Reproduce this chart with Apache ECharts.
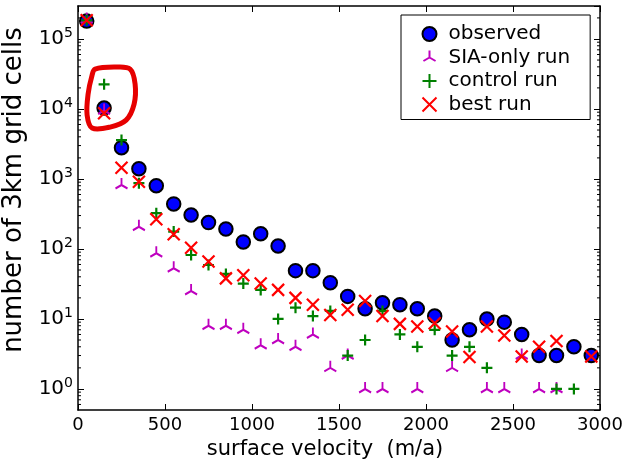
<!DOCTYPE html>
<html>
<head>
<meta charset="utf-8">
<script src="https://cdn.jsdelivr.net/npm/echarts@6/dist/echarts.min.js"></script>
<style>
html,body{margin:0;padding:0;background:#fff;}
#chart{width:625px;height:459px;}
</style>
</head>
<body>
<div id="chart"></div>
<script>
// bin centres of surface velocity (m/a)
const velocity = [50,150,250,350,450,550,650,750,850,950,1050,1150,1250,1350,1450,1550,1650,1750,1850,1950,2050,2150,2250,2350,2450,2550,2650,2750,2850,2950];
const observed = [180000,10300,2800,1400,800,440,305,238,193,126,165,110,49,49,33,21,14,17,16,14,11,5,7,10,9,6,3,3,4,3];
const siaOnly  = [190000,9500,820,208,87,53,25,8,8,7,4.2,5,4,6,2,3,1,1,null,1,null,2,null,1,1,3,1,1,null,null];
const control  = [185000,22500,3600,870,324,177,82,59,44,32,26,10,14.5,11,13,3,5,13,6,4,7,3,4,2,null,null,null,1,1,null];
const best     = [185000,8700,1450,915,266,162,104,66,38,42,32,26,20,16,11.4,13.5,18,11,8.5,7.8,8.7,6.6,2.85,7.8,5.8,2.9,4,4.85,null,2.9];
const seriesNames = ['observed','SIA-only run','control run','best run'];
const xTicks = [0,500,1000,1500,2000,2500,3000];
const yMin = 0.5, yMax = 296000;
// index of the bin that is circled by hand in red
const circledBin = 1;

function pairs(vals){
  const out = [];
  vals.forEach((v,i)=>{ if (v !== null) out.push([velocity[i], v]); });
  return out;
}
// log minor tick positions (2..9 x 10^n)
const minorVals = [];
for (let e=-1;e<=5;e++){ for (let m=2;m<=9;m++){ const v=m*Math.pow(10,e); if (v>yMin && v<yMax) minorVals.push([0,v]); } }

const FONT = 'DejaVu Sans';
function yFmt(v){
  const l = Math.log10(v), e = Math.round(l);
  if (Math.abs(l-e) > 1e-6) return '';
  return '{b|10}{s|' + e + '}';
}
const commonY = {
  type:'log', min:yMin, max:yMax, splitNumber:5,
  axisLine:{show:true, onZero:false, lineStyle:{color:'#000', width:1.5}},
  axisTick:{show:true, inside:true, length:6, lineStyle:{color:'#000', width:1}},
  splitLine:{show:false}
};
const commonX = {
  type:'value', min:xTicks[0], max:xTicks[xTicks.length-1], interval:xTicks[1]-xTicks[0],
  axisLine:{show:true, onZero:false, lineStyle:{color:'#000', width:1.5}},
  axisTick:{show:true, inside:true, length:6, lineStyle:{color:'#000', width:1}},
  splitLine:{show:false}
};

const triPath = 'path://M0,7M0,0L0,-7M0,0L-6.06,3.5M0,0L6.06,3.5';
const plusPath = 'path://M-5,0L5,0M0,-5L0,5';
const xPath = 'path://M-5,-5L5,5M-5,5L5,-5';

const chart = echarts.init(document.getElementById('chart'), null, {renderer:'canvas'});
chart.setOption({
  animation:false,
  backgroundColor:'#fff',
  textStyle:{fontFamily:FONT},
  grid:{left:78, right:25, top:6, bottom:49, containLabel:false, outerBoundsMode:'none'},
  xAxis:[
    Object.assign({}, commonX, {
      position:'bottom',
      name:'surface velocity  (m/a)', nameLocation:'middle', nameGap:27,
      nameTextStyle:{fontFamily:FONT, fontSize:21, color:'#000', padding:[0,28,0,0]},
      axisLabel:{fontFamily:FONT, fontSize:18, color:'#000', margin:6, formatter:function(v){return String(v);}}
    }),
    Object.assign({}, commonX, {position:'top', axisLabel:{show:false}})
  ],
  yAxis:[
    Object.assign({}, commonY, {
      position:'left',
      name:'number of 3km grid cells', nameLocation:'middle', nameGap:42,
      nameTextStyle:{fontFamily:FONT, fontSize:26, color:'#000', padding:[0,0,0,36]},
      axisLabel:{formatter:yFmt, margin:5, showMinLabel:false, showMaxLabel:false,
        rich:{ b:{fontFamily:FONT, fontSize:20, color:'#000'},
               s:{fontFamily:FONT, fontSize:14, color:'#000', padding:[0,0,12,0]} } }
    }),
    Object.assign({}, commonY, {position:'right', axisLabel:{show:false}})
  ],
  legend:{
    data:seriesNames, orient:'vertical', left:401, top:15,
    itemWidth:14, itemHeight:14, itemGap:3.5,
    padding:[9,20,5,19],
    borderColor:'#000', borderWidth:1, borderRadius:0,
    textStyle:{fontFamily:FONT, fontSize:20, color:'#000', padding:[0,0,0,7]},
    selectedMode:false
  },
  series:[
    {type:'custom', name:'minor', silent:true, xAxisIndex:0, yAxisIndex:0, data:minorVals, z:1,
      renderItem:function(params, api){
        const cs = params.coordSys;
        const y = api.coord([0, api.value(1)])[1];
        const st = {stroke:'#000', lineWidth:1};
        return {type:'group', children:[
          {type:'line', shape:{x1:cs.x, y1:y, x2:cs.x+3, y2:y}, style:st},
          {type:'line', shape:{x1:cs.x+cs.width-3, y1:y, x2:cs.x+cs.width, y2:y}, style:st}
        ]};
      }},
    {type:'scatter', name:seriesNames[0], data:pairs(observed), symbol:'circle', symbolSize:13.5,
      itemStyle:{color:'#0000ff', borderColor:'#000', borderWidth:2, opacity:1}, z:2, emphasis:{disabled:true}},
    {type:'scatter', name:seriesNames[1], data:pairs(siaOnly), symbol:triPath, symbolSize:[12,14],
      itemStyle:{color:'none', borderColor:'#bf00bf', borderWidth:2, opacity:1}, z:3, emphasis:{disabled:true}},
    {type:'scatter', name:seriesNames[2], data:pairs(control), symbol:plusPath, symbolSize:11,
      itemStyle:{color:'none', borderColor:'#008000', borderWidth:2.2, opacity:1}, z:4, emphasis:{disabled:true}},
    {type:'scatter', name:seriesNames[3], data:pairs(best), symbol:xPath, symbolSize:12,
      itemStyle:{color:'none', borderColor:'#ff0000', borderWidth:2.2, opacity:1}, z:5, emphasis:{disabled:true}},
    // hand-drawn red loop around the circled bin, anchored on that data point
    {type:'custom', name:'annotation', silent:true, z:6,
      data:[[velocity[circledBin], observed[circledBin]]],
      renderItem:function(params, api){
        const c = api.coord([api.value(0), api.value(1)]);
        const off = [[-9,-39],[11,-41],[26,-39],[31,-24],[30,-4],[22,12],[6,19],[-12,20],[-17,7],[-16,-14],[-12,-33]];
        const pts = off.map(p=>[c[0]+p[0], c[1]+p[1]]);
        return {type:'polygon', shape:{points:pts, smooth:0.35},
          style:{fill:'none', stroke:'#e60000', lineWidth:5, lineJoin:'round'}};
      }}
  ]
});
</script>
</body>
</html>
